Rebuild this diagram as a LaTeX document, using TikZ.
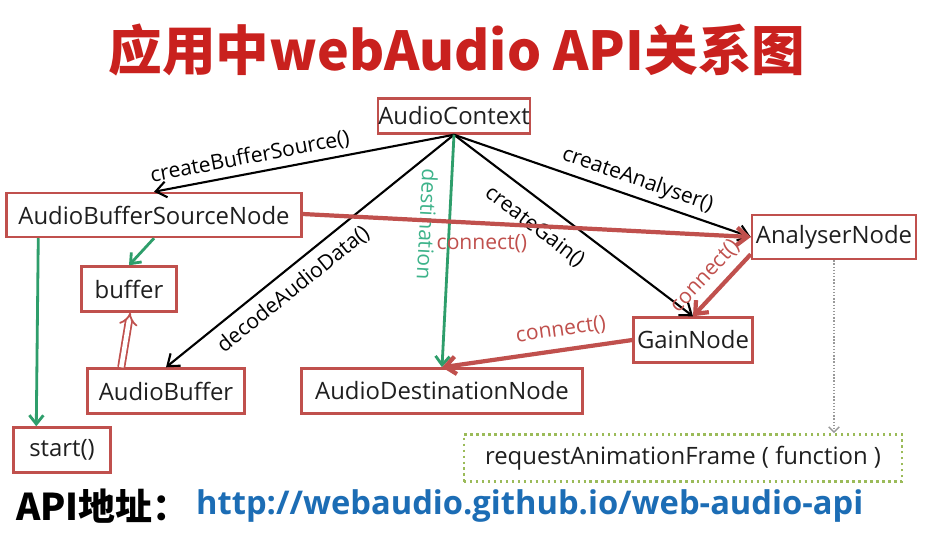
\documentclass[tikz,border=0pt]{standalone}
\usepackage{fontspec}
\setmainfont{Open Sans}
\newfontfamily\cjk{Noto Sans CJK SC}
\usetikzlibrary{arrows.meta,positioning}
\definecolor{boxred}{HTML}{C0504D}
\definecolor{titlered}{HTML}{C9211E}
\definecolor{flowgreen}{HTML}{2E9E6B}
\definecolor{labelgreen}{HTML}{3DB38A}
\definecolor{dotgreen}{HTML}{9BBB59}
\definecolor{urlblue}{HTML}{1C6DB5}
\definecolor{ink}{HTML}{1F1F1F}
\tikzset{
  box/.style={draw=boxred,fill=white,line width=1.4pt,inner sep=0pt,
              text=ink,font=\fontsize{13.6}{16}\selectfont},
  lbl/.style={font=\fontsize{12}{14}\selectfont,inner sep=3pt},
  call/.style={draw=black,line width=1.2pt,-{Straight Barb[length=6pt,width=9pt]}},
  wire/.style={draw=boxred,line width=2.4pt,-{Straight Barb[length=6pt,width=10pt]}},
  flow/.style={draw=flowgreen,line width=1.6pt,-{Straight Barb[length=5pt,width=8pt]}},
}

\begin{document}
\begin{tikzpicture}
  \fill[white] (0,0) rectangle (18.9,-10.64);
  \useasboundingbox (0,0) rectangle (18.9,-10.64);

  \node[text=titlered,font=\cjk\bfseries\fontsize{30.5}{34}\selectfont] (title) at (9.14,-1.00)
     {应用中webAudio API关系图};

  % boxes
  \node[box,minimum width=3.04cm,minimum height=0.70cm] (ctx) at (9.08,-2.32) {AudioContext};
  \node[box,minimum width=5.90cm,minimum height=0.88cm] (absn) at (3.08,-4.30) {AudioBufferSourceNode};
  \node[box,minimum width=1.90cm,minimum height=0.90cm] (buf) at (2.58,-5.78) {buffer};
  \node[box,minimum width=3.14cm,minimum height=0.90cm] (abuf) at (3.32,-7.82) {AudioBuffer};
  \node[box,minimum width=1.94cm,minimum height=0.90cm] (start) at (1.24,-9.00) {start()};
  \node[box,minimum width=5.62cm,minimum height=0.90cm] (dest) at (8.84,-7.82) {AudioDestinationNode};
  \node[box,minimum width=2.38cm,minimum height=0.90cm] (gain) at (13.86,-6.80) {GainNode};
  \node[box,minimum width=3.28cm,minimum height=0.88cm] (anl) at (16.68,-4.74) {AnalyserNode};
  \node[box,draw=dotgreen,dotted,line width=1.5pt,minimum width=8.76cm,minimum height=0.94cm]
     (raf) at (13.66,-9.16) {requestAnimationFrame ( function )};

  % calls from the context
  \draw[call] (ctx.south) -- (absn.north)
     node[lbl,pos=0.67,sloped,above] {createBufferSource()};
  \draw[call] (ctx.south) -- (abuf.north)
     node[lbl,pos=0.6,sloped,below=2pt] {decodeAudioData()};
  \draw[call] (ctx.south) -- (gain.north)
     node[lbl,pos=0.4,sloped,below=5pt] {createGain()};
  \draw[call] (ctx.south) -- (anl.west)
     node[lbl,pos=0.6,sloped,above] {createAnalyser()};
  \draw[flow] (ctx.south) -- (dest.north)
     node[lbl,text=labelgreen,pos=0.39,sloped,allow upside down,below=4pt] {destination};

  % connections
  \draw[wire] ([yshift=0.02cm]absn.east) -- (anl.west)
     node[lbl,text=boxred,pos=0.4,below=2pt] {connect()};
  \draw[wire] ([yshift=0.12cm]anl.south west) -- (gain.north)
     node[lbl,text=boxred,pos=0.56,sloped,above=1pt] {connect()};
  \draw[wire] (gain.west) -- (dest.north)
     node[lbl,text=boxred,pos=0.36,sloped,above=2pt] {connect()};

  \draw[flow] (absn.south) -- (buf.north);
  \draw[flow] ([xshift=0.66cm]absn.south west) -- ([xshift=0.48cm]start.north west);
  \draw[draw=boxred,double=white,double distance=2.6pt,line width=1pt,-{Implies[length=6pt]}]
     ([xshift=0.7cm]abuf.north west) -- ([xshift=-0.95cm]buf.south east);
  \draw[draw=gray!80,densely dotted,line width=0.8pt,-{Straight Barb[length=3pt,width=6pt]}]
     (anl.south) -- (anl.south |- raf.north);

  % api link
  \node[anchor=west,font=\cjk\bfseries\fontsize{21}{24}\selectfont,text=black] (apilbl) at (0.20,-10.12)
     {API地址：};
  \node[anchor=west,font=\bfseries\fontsize{18.6}{22}\selectfont,text=urlblue] (url) at (3.80,-10.12)
     {http://webaudio.github.io/web-audio-api};
\end{tikzpicture}
\end{document}
